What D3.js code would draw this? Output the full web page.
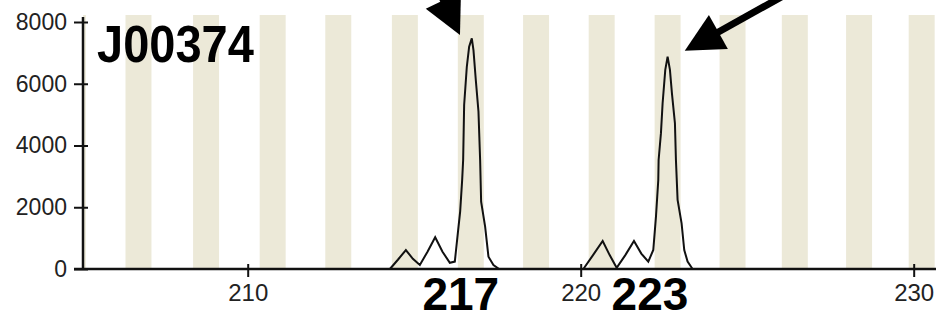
<!DOCTYPE html>
<html>
<head>
<meta charset="utf-8">
<script src="https://cdn.jsdelivr.net/npm/d3@7"></script>
<style>
body { margin:0; background:#fff; }
svg  { display:block; }
</style>
</head>
<body>
<div id="chart"></div>
<script>
// bin centres (bp) of the ladder, drawn as beige stripes
var binCenters = [204.75, 206.72, 208.75, 210.75, 212.72, 214.72, 216.70, 218.66, 220.63, 222.61, 224.56, 226.43, 228.36, 230.24]
var binWidth   = 0.78

var xTicks = [210, 220, 230]
var yTicks = [0, 2000, 4000, 6000, 8000]

// trace, [size bp, RFU]
var traceA = [[214.27,0],[214.51,300],[214.75,615],[214.96,330],[215.17,130],[215.40,560],[215.63,1030],[215.85,560],
              [216.07,200],[216.22,240],[216.32,1260],[216.38,1860],[216.44,2880],[216.47,3530],[216.50,5310],
              [216.58,6550],[216.65,7200],[216.73,7470],[216.78,7090],[216.85,6120],[216.93,5100],[216.98,3530],
              [217.01,2180],[217.13,1370],[217.23,400],[217.38,130],[217.55,0]]
var traceB = [[220.08,0],[220.37,450],[220.66,905],[220.87,450],[221.08,40],[221.34,450],[221.60,905],[221.82,500],
              [222.03,240],[222.18,615],[222.26,1690],[222.33,2880],[222.34,3530],[222.41,4400],[222.46,5370],
              [222.54,6450],[222.61,6880],[222.68,6450],[222.74,5690],[222.83,4720],[222.86,3530],[222.91,2240],
              [223.03,1480],[223.11,615],[223.21,240],[223.36,0]]

// annotations: allele calls and arrows (tip -> tail, in bp / RFU)
var sampleName = 'J00374'
var alleles    = [{ label:'217', bp:216.40 }, { label:'223', bp:222.08 }]
var arrows     = [{ tip:[216.375, 7580], tail:[215.08, 10500] },
                  { tip:[223.125, 7070], tail:[227.49, 9690] }]

var w = 936
var h = 320
var m = { top:22, right:0, bottom:51, left:83 }

var x = d3.scaleLinear()
    .domain([205.054, 230.67])
    .range([m.left, w-m.right])
var y = d3.scaleLinear()
    .domain([0, 8000])
    .range([h-m.bottom, m.top])

var svg = d3.select('#chart')
    .append('svg')
    .attr('width', w)
    .attr('height', h)

svg.append('clipPath')
    .attr('id', 'clip')
    .append('rect')
        .attr('x', m.left)
        .attr('y', 0)
        .attr('width', w-m.left-m.right)
        .attr('height', h-m.bottom)

// stripes
svg.append('g')
    .attr('clip-path', 'url(#clip)')
    .selectAll('rect')
    .data(binCenters)
    .join('rect')
        .attr('x', d=> x(d-binWidth/2))
        .attr('width', d=> x(d+binWidth/2)-x(d-binWidth/2))
        .attr('y', y(8000)-7)
        .attr('height', y(0)-y(8000)+7)
        .attr('fill', '#ECE9D8')

// trace
var line = d3.line()
    .x(d=> x(d[0]))
    .y(d=> y(d[1]))

svg.append('g')
    .selectAll('path')
    .data([traceA, traceB])
    .join('path')
        .attr('d', line)
        .attr('fill', 'none')
        .attr('stroke', '#111')
        .attr('stroke-width', 2)
        .attr('stroke-linecap', 'round')
        .attr('stroke-linejoin', 'miter')

// axes
var yAxis = d3.axisLeft(y).tickValues(yTicks).tickFormat(d3.format('d')).tickSize(9).tickPadding(7)
var xAxis = d3.axisBottom(x).tickValues(xTicks).tickFormat(d3.format('d')).tickSize(8)

var gy = svg.append('g')
    .attr('transform', 'translate(' + m.left + ',0)')
    .call(yAxis)
var gx = svg.append('g')
    .attr('transform', 'translate(0,' + y(0) + ')')
    .call(xAxis)

gy.select('.domain').remove()
gx.select('.domain').remove()
gy.selectAll('.tick line').attr('x1', 5).attr('stroke', '#111').attr('stroke-width', 2)
gx.selectAll('.tick line').attr('y1', -5).attr('stroke', '#111').attr('stroke-width', 2)
gy.selectAll('.tick text')
    .attr('font-family', 'Liberation Sans, Arial, sans-serif')
    .attr('font-size', 23)
    .attr('fill', '#222')
gx.selectAll('.tick text')
    .attr('font-family', 'Liberation Sans, Arial, sans-serif')
    .attr('font-size', 24)
    .attr('fill', '#222')
    .attr('dy', null)
    .attr('y', 32)

svg.append('line')
    .attr('x1', m.left).attr('x2', m.left)
    .attr('y1', y(8000)-5).attr('y2', y(0))
    .attr('stroke', '#111').attr('stroke-width', 2.5)
svg.append('line')
    .attr('x1', m.left-9).attr('x2', w)
    .attr('y1', y(0)).attr('y2', y(0))
    .attr('stroke', '#111').attr('stroke-width', 2.5)

// labels
var bigFont = 'Liberation Sans, Arial, sans-serif'
svg.append('text')
    .attr('transform', 'translate(' + (m.left+14) + ',62) scale(1,1.1)')
    .attr('font-family', bigFont)
    .attr('font-weight', 'bold')
    .attr('font-size', 47)
    .text(sampleName)

svg.append('g')
    .selectAll('text')
    .data(alleles)
    .join('text')
        .attr('x', d=> x(d.bp))
        .attr('y', y(0)+41)
        .attr('text-anchor', 'middle')
        .attr('font-family', bigFont)
        .attr('font-weight', 'bold')
        .attr('font-size', 46)
        .text(d=> d.label)

// arrows
var headLen = 38.5
var headHalf = 19.5
arrows.forEach(a=> {
    var tx = x(a.tip[0]), ty = y(a.tip[1])
    var sx = x(a.tail[0]), sy = y(a.tail[1])
    var len = Math.hypot(sx-tx, sy-ty)
    var ux = (sx-tx)/len, uy = (sy-ty)/len
    var bx = tx + ux*headLen, by = ty + uy*headLen
    svg.append('line')
        .attr('x1', bx - ux*2).attr('y1', by - uy*2)
        .attr('x2', sx).attr('y2', sy)
        .attr('stroke', '#000')
        .attr('stroke-width', 7)
    svg.append('polygon')
        .attr('points', [[tx, ty], [bx - uy*headHalf, by + ux*headHalf], [bx + uy*headHalf, by - ux*headHalf]].join(' '))
        .attr('fill', '#000')
})
</script>
</body>
</html>
